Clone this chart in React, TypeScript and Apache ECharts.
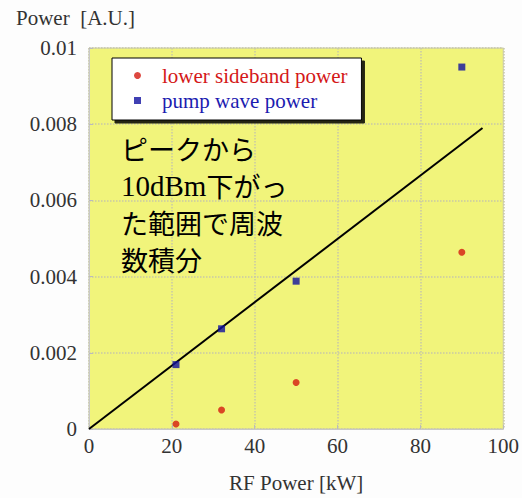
import React, { useEffect, useRef } from "react";
import * as echarts from "echarts";

const xTicks = [0, 20, 40, 60, 80, 100];
const rfPower = [21, 32, 50, 90];
const lowerSideband = [0.00013, 0.0005, 0.00122, 0.00464];
const pumpWave = [0.00169, 0.00263, 0.00388, 0.0095];
const guideX = [0, 95];
const guideY = [0, 0.0079];
const annotationLines = ["ピークから", "10dBm下がっ", "た範囲で周波", "数積分"];

const SERIF = "Liberation Serif, Times New Roman, DejaVu Serif, serif";
const CJK = "Noto Sans CJK JP, Noto Sans, sans-serif";

export default function App() {
  const ref = useRef<HTMLDivElement>(null);
  useEffect(() => {
    if (!ref.current) return;
    const chart = echarts.init(ref.current, null, { renderer: "svg" });
    const annotationText = annotationLines
      .map((l) =>
        l.startsWith("10dBm") ? "{s|10dBm}{j|" + l.slice(5) + "}" : "{j|" + l + "}"
      )
      .join("\n");
    chart.setOption({
      animation: false,
      backgroundColor: "#fdfdfd",
      grid: {
        left: 89,
        right: 15,
        top: 48,
        bottom: 66,
        show: true,
        backgroundColor: "#f1f47b",
        borderColor: "#c8c8b0",
        borderWidth: 1,
      },
      xAxis: {
        type: "value",
        min: xTicks[0],
        max: xTicks[xTicks.length - 1],
        interval: 20,
        name: "RF Power [kW]",
        nameLocation: "middle",
        nameGap: 43,
        nameTextStyle: { fontFamily: SERIF, fontSize: 21, color: "#333" },
        axisLine: { lineStyle: { color: "#c8c8c8" } },
        axisTick: { inside: true, length: 4, lineStyle: { color: "#bbb" } },
        axisLabel: { fontFamily: SERIF, fontSize: 21, color: "#333", margin: 6 },
        splitLine: { show: true, lineStyle: { type: "dotted", color: "#c8c8a8", width: 1.5 } },
      },
      yAxis: {
        type: "value",
        min: 0,
        max: 0.01,
        interval: 0.002,
        axisLine: { show: true, lineStyle: { color: "#c8c8c8" } },
        axisTick: { show: true, inside: true, length: 4, lineStyle: { color: "#bbb" } },
        axisLabel: {
          fontFamily: SERIF,
          fontSize: 21,
          color: "#333",
          margin: 12,
          formatter: (v: number) => (v === 0 ? "0" : String(+v.toFixed(4))),
        },
        splitLine: { show: true, lineStyle: { type: "dotted", color: "#c8c8a8", width: 1.5 } },
      },
      legend: {
        show: true,
        orient: "vertical",
        left: 112,
        top: 58,
        padding: [7, 14, 9, 22],
        itemGap: 4,
        itemWidth: 7,
        itemHeight: 7,
        backgroundColor: "#ffffff",
        borderColor: "#000",
        borderWidth: 1,
        shadowColor: "rgba(0,0,0,0.85)",
        shadowBlur: 0,
        shadowOffsetX: 3,
        shadowOffsetY: 3,
        textStyle: { fontFamily: SERIF, fontSize: 21, padding: [0, 0, 0, 16] },
        data: [
          { name: "lower sideband power", icon: "circle", textStyle: { color: "#d41818" } },
          { name: "pump wave power", icon: "rect", textStyle: { color: "#1c1cb0" } },
        ],
      },
      graphic: [
        {
          type: "text",
          left: 121,
          top: 130,
          z: 10,
          style: {
            text: annotationText,
            lineHeight: 37,
            fill: "#000",
            rich: {
              j: { fontFamily: CJK, fontSize: 27, lineHeight: 37, fill: "#000" },
              s: { fontFamily: SERIF, fontSize: 29, lineHeight: 37, fill: "#000" },
            },
          },
        },
      ],
      series: [
        {
          name: "guide",
          type: "line",
          data: guideX.map((x, i) => [x, guideY[i]]),
          showSymbol: false,
          symbol: "none",
          lineStyle: { color: "#000", width: 2 },
          z: 3,
        },
        {
          name: "lower sideband power",
          type: "scatter",
          data: rfPower.map((x, i) => [x, lowerSideband[i]]),
          symbol: "circle",
          symbolSize: 7,
          itemStyle: { color: "#d41a10" },
          z: 4,
        },
        {
          name: "pump wave power",
          type: "scatter",
          data: rfPower.map((x, i) => [x, pumpWave[i]]),
          symbol: "rect",
          symbolSize: 7,
          itemStyle: { color: "#1010a0" },
          z: 4,
        },
      ],
    });
    return () => chart.dispose();
  }, []);
  return (
    <div style={{ position: "fixed", left: 0, top: 0, width: 522, height: 498 }}>
      <div ref={ref} style={{ width: 522, height: 498 }} />
      <div
        style={{
          position: "absolute",
          left: 16,
          top: 6,
          fontFamily: SERIF,
          fontSize: 21,
          color: "#333",
          whiteSpace: "pre",
        }}
      >
        {"Power  [A.U.]"}
      </div>
    </div>
  );
}
